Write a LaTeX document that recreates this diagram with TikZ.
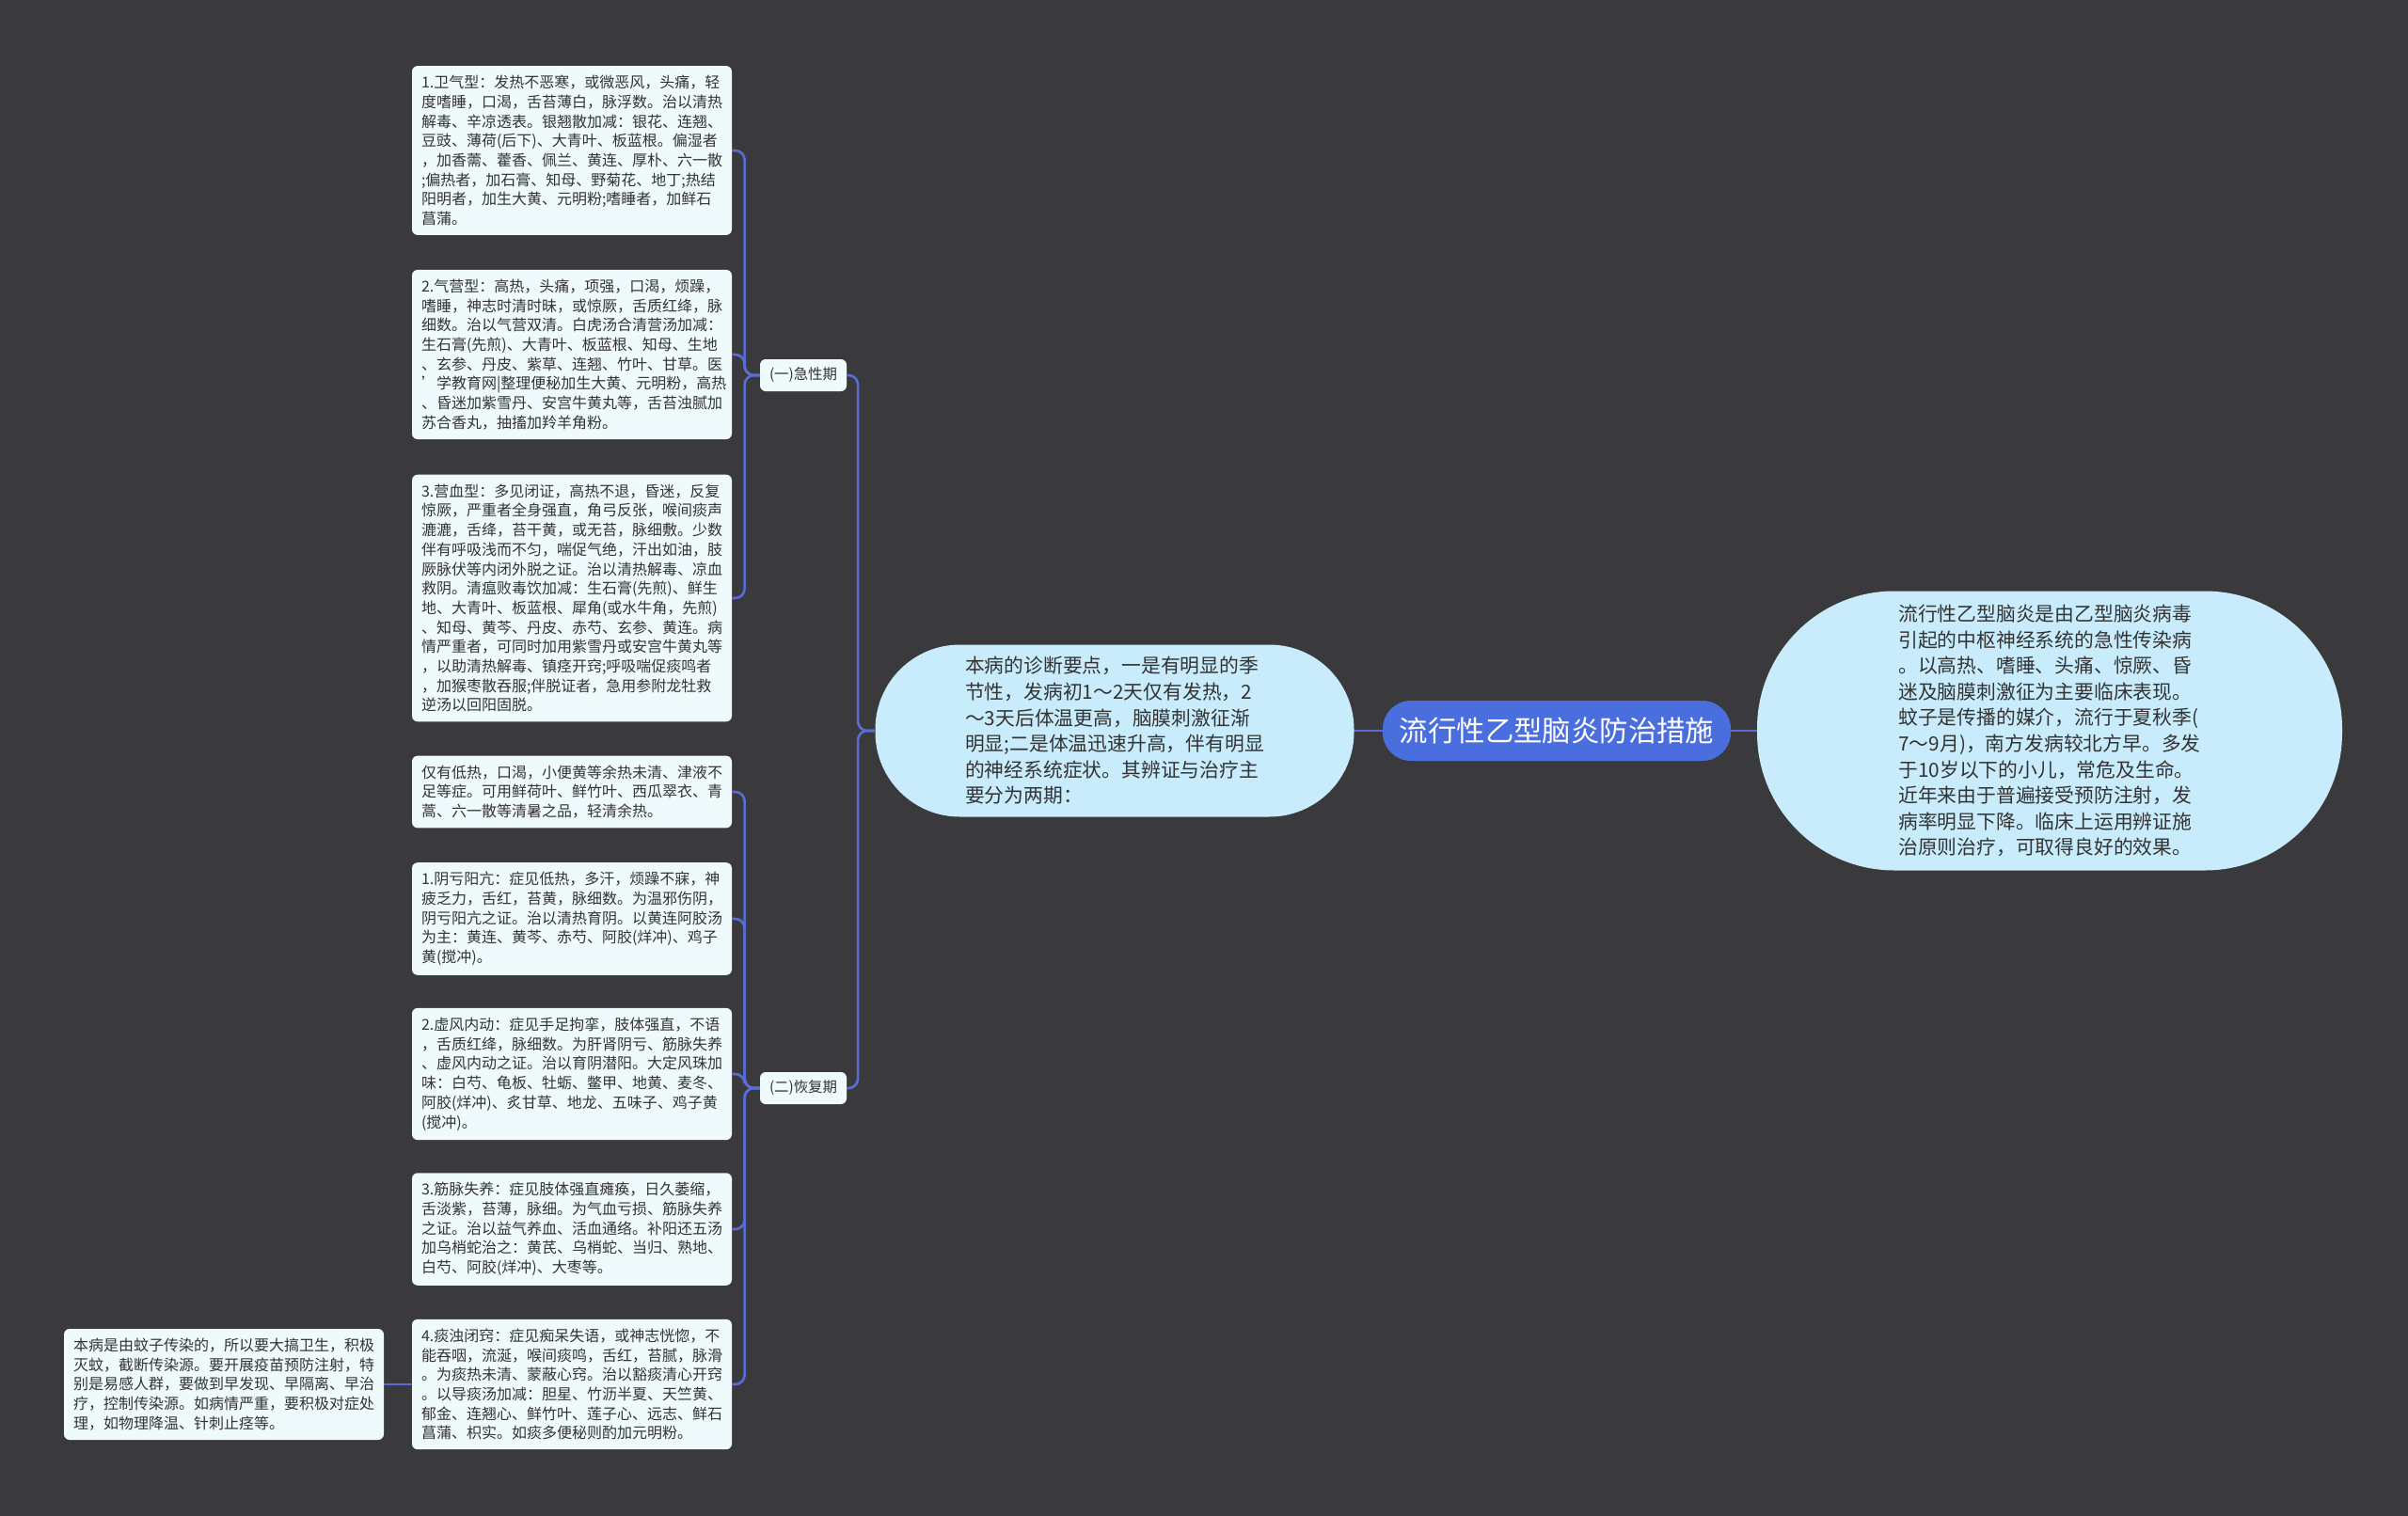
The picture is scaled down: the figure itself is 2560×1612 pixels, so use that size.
\documentclass[tikz,border=0pt]{standalone}
\usepackage{fontspec}
\setmainfont{Noto Sans CJK SC}
\usepackage{tikz}
\definecolor{bgc}{HTML}{3A3A3C}
\definecolor{linkc}{HTML}{5B6CD8}
\definecolor{rootc}{HTML}{4B6EDF}
\definecolor{bubblec}{HTML}{C8ECFC}
\definecolor{leafc}{HTML}{EFFAFD}
\definecolor{txtc}{HTML}{333333}

\begin{document}
\begin{tikzpicture}[x=0.5pt,y=-0.5pt,
    link/.style={draw=linkc,line width=1.3pt},
    root/.style={fill=rootc,text=white,rounded corners=15pt,minimum width=185pt,minimum height=32pt,font=\fontsize{15.2}{18}\selectfont},
    bubble/.style={fill=bubblec,text=txtc,align=left,inner sep=0pt,font=\fontsize{10.4}{13.8}\selectfont},
    stage/.style={fill=leafc,text=txtc,rounded corners=3pt,minimum width=46pt,minimum height=17pt,inner sep=2pt,font=\fontsize{7.7}{9}\selectfont},
    leaf/.style={fill=leafc,text=txtc,rounded corners=3pt,text width=160pt,inner xsep=5pt,inner ysep=5pt,align=left,font=\fontsize{8}{10.35}\selectfont}]
  \useasboundingbox (0,0) rectangle (2560,1612);
  \fill[bgc] (0,0) rectangle (2560,1612);
  % centre and its two bubbles
  \node[root] (root) at (1655,777) {流行性乙型脑炎防治措施};
  \node[bubble,minimum width=311pt,minimum height=148.5pt,rounded corners=73pt] (intro) at (2179,777) {流行性乙型脑炎是由乙型脑炎病毒\\引起的中枢神经系统的急性传染病\\。以高热、嗜睡、头痛、惊厥、昏\\迷及脑膜刺激征为主要临床表现。\\蚊子是传播的媒介，流行于夏秋季(\\7～9月)，南方发病较北方早。多发\\于10岁以下的小儿，常危及生命。\\近年来由于普遍接受预防注射，发\\病率明显下降。临床上运用辨证施\\治原则治疗，可取得良好的效果。};
  \node[bubble,minimum width=254.5pt,minimum height=91.5pt,rounded corners=45pt] (diag) at (1185,777) {本病的诊断要点，一是有明显的季\\节性，发病初1～2天仅有发热，2\\～3天后体温更高，脑膜刺激征渐\\明显;二是体温迅速升高，伴有明显\\的神经系统症状。其辨证与治疗主\\要分为两期：};
  % the two stages
  \node[stage] (acute) at (854,399) {(一)急性期};
  \node[stage] (recov) at (854,1157) {(二)恢复期};
  % acute stage
  \node[leaf] (a1) at (608,160) {1.卫气型：发热不恶寒，或微恶风，头痛，轻\\度嗜睡，口渴，舌苔薄白，脉浮数。治以清热\\解毒、辛凉透表。银翘散加减：银花、连翘、\\豆豉、薄荷(后下)、大青叶、板蓝根。偏湿者\\，加香薷、藿香、佩兰、黄连、厚朴、六一散\\;偏热者，加石膏、知母、野菊花、地丁;热结\\阳明者，加生大黄、元明粉;嗜睡者，加鲜石\\菖蒲。};
  \node[leaf] (a2) at (608,377) {2.气营型：高热，头痛，项强，口渴，烦躁，\\嗜睡，神志时清时昧，或惊厥，舌质红绛，脉\\细数。治以气营双清。白虎汤合清营汤加减：\\生石膏(先煎)、大青叶、板蓝根、知母、生地\\、玄参、丹皮、紫草、连翘、竹叶、甘草。医\\'学教育网|整理便秘加生大黄、元明粉，高热\\、昏迷加紫雪丹、安宫牛黄丸等，舌苔浊腻加\\苏合香丸，抽搐加羚羊角粉。};
  \node[leaf] (a3) at (608,636) {3.营血型：多见闭证，高热不退，昏迷，反复\\惊厥，严重者全身强直，角弓反张，喉间痰声\\漉漉，舌绛，苔干黄，或无苔，脉细敷。少数\\伴有呼吸浅而不匀，喘促气绝，汗出如油，肢\\厥脉伏等内闭外脱之证。治以清热解毒、凉血\\救阴。清瘟败毒饮加减：生石膏(先煎)、鲜生\\地、大青叶、板蓝根、犀角(或水牛角，先煎)\\、知母、黄芩、丹皮、赤芍、玄参、黄连。病\\情严重者，可同时加用紫雪丹或安宫牛黄丸等\\，以助清热解毒、镇痉开窍;呼吸喘促痰鸣者\\，加猴枣散吞服;伴脱证者，急用参附龙牡救\\逆汤以回阳固脱。};
  % recovery stage
  \node[leaf] (r0) at (608,842) {仅有低热，口渴，小便黄等余热未清、津液不\\足等症。可用鲜荷叶、鲜竹叶、西瓜翠衣、青\\蒿、六一散等清暑之品，轻清余热。};
  \node[leaf] (r1) at (608,977) {1.阴亏阳亢：症见低热，多汗，烦躁不寐，神\\疲乏力，舌红，苔黄，脉细数。为温邪伤阴，\\阴亏阳亢之证。治以清热育阴。以黄连阿胶汤\\为主：黄连、黄芩、赤芍、阿胶(烊冲)、鸡子\\黄(搅冲)。};
  \node[leaf] (r2) at (608,1142) {2.虚风内动：症见手足拘挛，肢体强直，不语\\，舌质红绛，脉细数。为肝肾阴亏、筋脉失养\\、虚风内动之证。治以育阴潜阳。大定风珠加\\味：白芍、龟板、牡蛎、鳖甲、地黄、麦冬、\\阿胶(烊冲)、炙甘草、地龙、五味子、鸡子黄\\(搅冲)。};
  \node[leaf] (r3) at (608,1307) {3.筋脉失养：症见肢体强直瘫痪，日久萎缩，\\舌淡紫，苔薄，脉细。为气血亏损、筋脉失养\\之证。治以益气养血、活血通络。补阳还五汤\\加乌梢蛇治之：黄芪、乌梢蛇、当归、熟地、\\白芍、阿胶(烊冲)、大枣等。};
  \node[leaf] (r4) at (608,1472) {4.痰浊闭窍：症见痴呆失语，或神志恍惚，不\\能吞咽，流涎，喉间痰鸣，舌红，苔腻，脉滑\\。为痰热未清、蒙蔽心窍。治以豁痰清心开窍\\。以导痰汤加减：胆星、竹沥半夏、天竺黄、\\郁金、连翘心、鲜竹叶、莲子心、远志、鲜石\\菖蒲、枳实。如痰多便秘则酌加元明粉。};
  \node[leaf] (note) at (238,1472) {本病是由蚊子传染的，所以要大搞卫生，积极\\灭蚊，截断传染源。要开展疫苗预防注射，特\\别是易感人群，要做到早发现、早隔离、早治\\疗，控制传染源。如病情严重，要积极对症处\\理，如物理降温、针刺止痉等。};
  % connectors
  \draw[link] (root.east) -- (intro.west);
  \draw[link] (root.west) -- (diag.east);
  \foreach \s in {acute,recov}
    \draw[link,rounded corners=5pt] (diag.west) -- ++(-18,0) |- (\s.east);
  \foreach \l in {a1,a2,a3}
    \draw[link,rounded corners=5pt] (acute.west) -- ++(-16,0) |- (\l.east);
  \foreach \l in {r0,r1,r2,r3,r4}
    \draw[link,rounded corners=5pt] (recov.west) -- ++(-16,0) |- (\l.east);
  \draw[link] (r4.west) -- (note.east);
\end{tikzpicture}
\end{document}
